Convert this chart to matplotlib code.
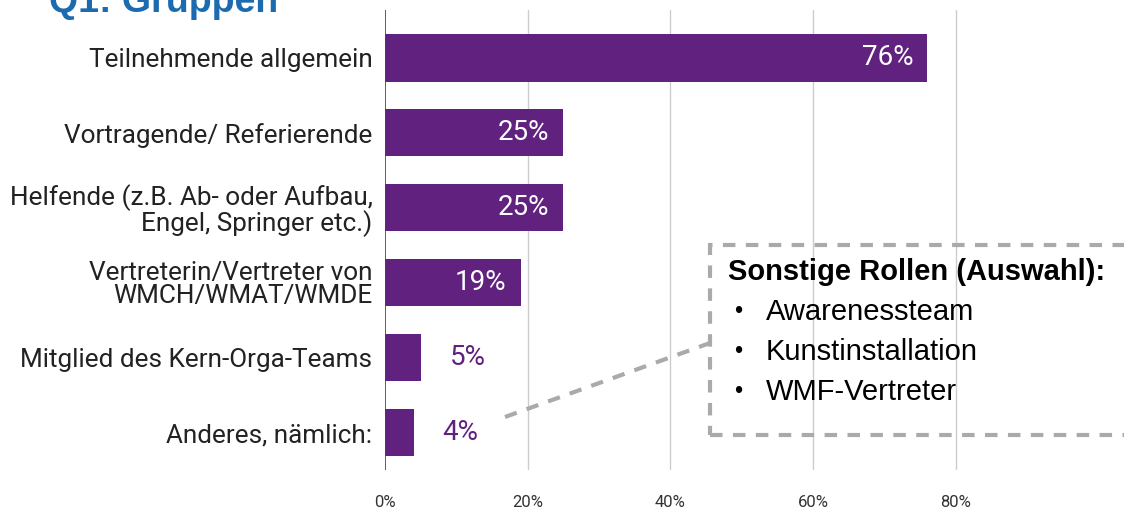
import matplotlib.pyplot as plt

categories = [
    "Teilnehmende allgemein",
    "Vortragende/ Referierende",
    "Helfende (z.B. Ab- oder Aufbau,\nEngel, Springer etc.)",
    "Vertreterin/Vertreter von\nWMCH/WMAT/WMDE",
    "Mitglied des Kern-Orga-Teams",
    "Anderes, nämlich:",
]
values = [76, 25, 25, 19, 5, 4]
value_labels = ["76%", "25%", "25%", "19%", "5%", "4%"]
ticks = [0, 20, 40, 60, 80]
tick_labels = ["0%", "20%", "40%", "60%", "80%"]
box_title = "Sonstige Rollen (Auswahl):"
box_items = ["Awarenessteam", "Kunstinstallation", "WMF-Vertreter"]

purple = "#61217f"
grey = "#aaaaaa"

fig = plt.figure(figsize=(11.24, 5.11), dpi=100)
ax = fig.add_axes([0.3425, 0.0802, 0.635, 0.9002])

pos = list(range(len(categories)))
ax.barh(pos, values, height=0.63, color=purple, zorder=3)
ax.set_ylim(5.5, -0.64)
ax.set_xlim(0, 100)

ax.set_yticks(pos)
ax.set_yticklabels(categories, family="Roboto", fontsize=18.8, color="#222222",
                   linespacing=0.95)
ax.tick_params(axis="y", length=0, pad=9)
ax.set_xticks(ticks)
ax.set_xticklabels(tick_labels, family="Roboto", fontsize=12, color="#333333")
ax.tick_params(axis="x", length=0, pad=18)

for t in ticks[1:]:
    ax.axvline(t, color="#cccccc", linewidth=1, zorder=1)
ax.axvline(0, color="#444444", linewidth=1.2, zorder=4)
for s in ax.spines.values():
    s.set_visible(False)

for i, (v, lab) in enumerate(zip(values, value_labels)):
    if v > 10:
        ax.annotate(lab, (v, i), xytext=(-10, 0), textcoords="offset points",
                    ha="right", va="center", color="white", fontsize=20,
                    family="Roboto", zorder=5)
    else:
        ax.annotate(lab, (v, i), xytext=(21, 0), textcoords="offset points",
                    ha="left", va="center", color=purple, fontsize=20,
                    family="Roboto", zorder=5)

# title, partly cut off at the top (as in the original)
fig.text(0.044, 0.9765, "Q1: Gruppen", family="Liberation Sans", weight="bold",
         fontsize=27, color="#1c6bb0", va="baseline")

# dashed callout box
fig.add_artist(plt.Rectangle((710 / 1124, 1 - 435 / 511), 0.40, 190 / 511,
                             transform=fig.transFigure, fill=False,
                             edgecolor=grey, linewidth=3, linestyle=(0, (3, 2.5)),
                             clip_on=False))
fig.add_artist(plt.Line2D([505 / 1124, 710 / 1124], [1 - 417 / 511, 1 - 343 / 511],
                          transform=fig.transFigure, color=grey, linewidth=3,
                          linestyle=(0, (3, 2.5))))

fig.text(728 / 1124, 1 - 272 / 511, box_title, family="Liberation Sans",
         weight="bold", fontsize=21, va="center")
for k, item in enumerate(box_items):
    y = 1 - (312 + 40 * k) / 511
    fig.text(734 / 1124, y, "\u2022", family="Liberation Sans", fontsize=17, va="center")
    fig.text(766 / 1124, y, item, family="Liberation Sans", fontsize=21, va="center")

fig.savefig("out.png", dpi=100)
